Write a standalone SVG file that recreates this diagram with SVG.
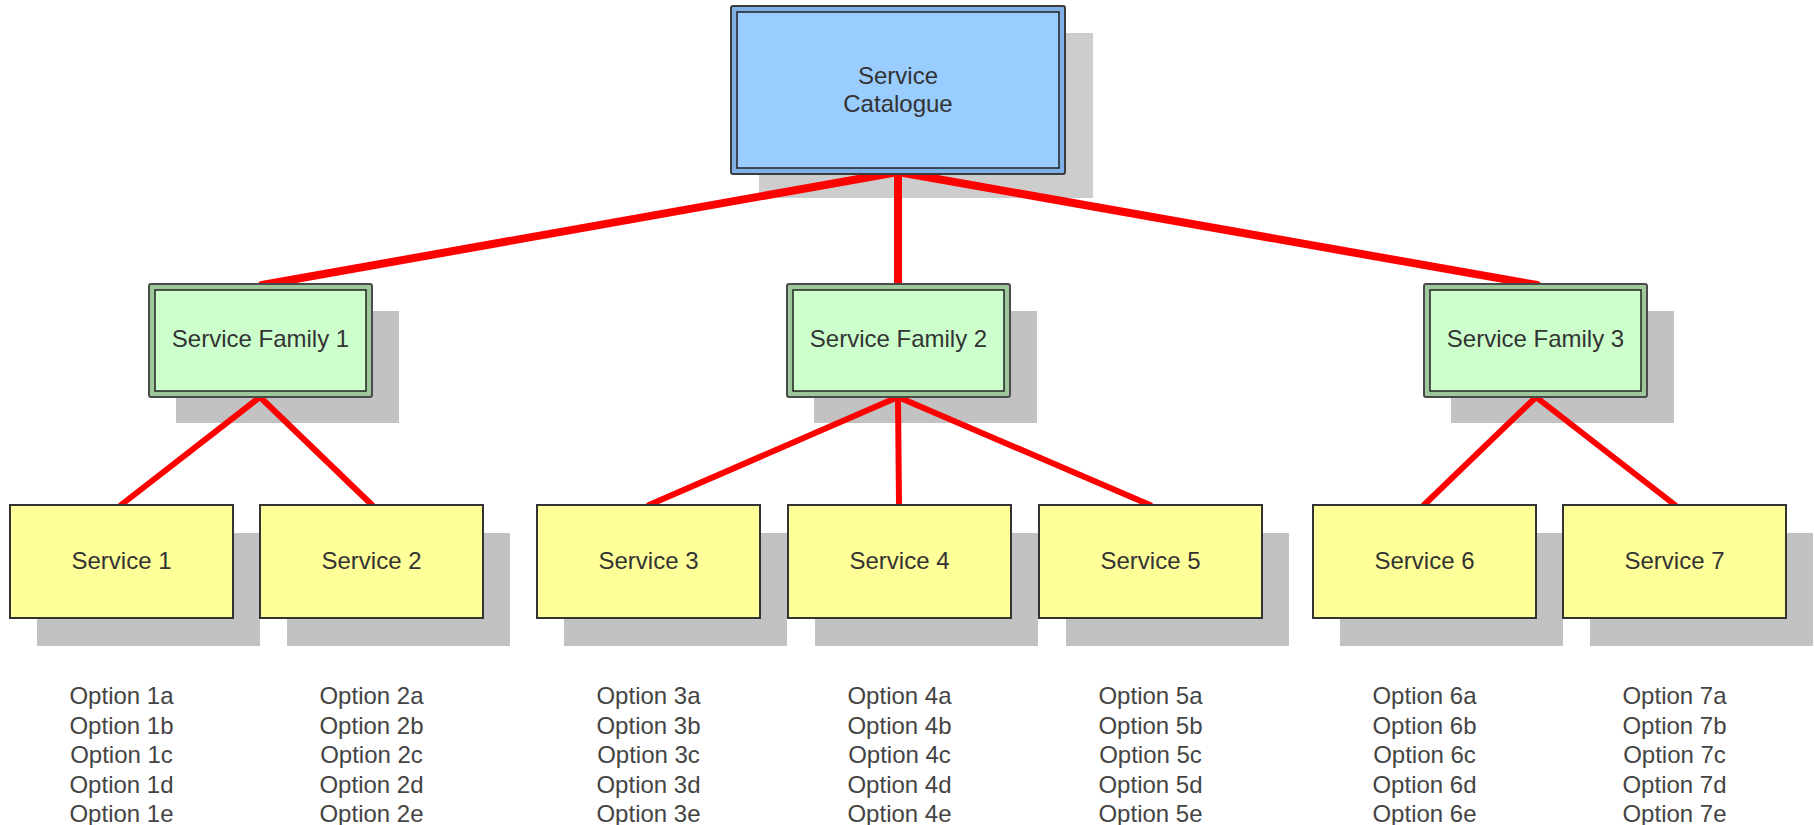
<svg xmlns="http://www.w3.org/2000/svg" width="1814" height="825" viewBox="0 0 1814 825">
<style>
.bg{fill:#ffffff}
.sh{fill:#c2c2c2}
.shc{fill:#cdcdcd}
.con{stroke:#ff0000;stroke-linecap:round;fill:none}
.top{stroke-width:8}
.low{stroke-width:6}
.catO{fill:#7fb0e6;stroke:#3c3c3c;stroke-width:2}
.catI{fill:#99ccff;stroke:#222222;stroke-width:1.5}
.famO{fill:#9cc89c;stroke:#4a4a4a;stroke-width:2}
.famI{fill:#ccffcc;stroke:#222222;stroke-width:1.5}
.svc{fill:#ffff99;stroke:#333333;stroke-width:2}
.t{font-family:"Liberation Sans",Arial,sans-serif;font-size:24px;fill:#333333;text-anchor:middle}
.o{font-family:"Liberation Sans",Arial,sans-serif;font-size:24px;fill:#444444;text-anchor:middle}
</style>
<rect class="bg" x="0" y="0" width="1814" height="825"/>
<g id="shadows">
<rect class="shc" x="759" y="33" width="334" height="165"/>
<rect class="sh" x="176" y="311" width="223" height="112"/>
<rect class="sh" x="814" y="311" width="223" height="112"/>
<rect class="sh" x="1451" y="311" width="223" height="112"/>
<rect class="sh" x="37" y="533" width="223" height="113"/>
<rect class="sh" x="287" y="533" width="223" height="113"/>
<rect class="sh" x="564" y="533" width="223" height="113"/>
<rect class="sh" x="815" y="533" width="223" height="113"/>
<rect class="sh" x="1066" y="533" width="223" height="113"/>
<rect class="sh" x="1340" y="533" width="223" height="113"/>
<rect class="sh" x="1590" y="533" width="223" height="113"/>
</g>
<g id="connectors">
<line class="con top" x1="898" y1="172" x2="262" y2="285"/>
<line class="con top" x1="898" y1="172" x2="898" y2="285"/>
<line class="con top" x1="898" y1="172" x2="1537" y2="285"/>
<line class="con low" x1="260" y1="397" x2="121" y2="505"/>
<line class="con low" x1="260" y1="397" x2="372" y2="505"/>
<line class="con low" x1="898" y1="397" x2="649" y2="505"/>
<line class="con low" x1="898" y1="397" x2="899" y2="505"/>
<line class="con low" x1="898" y1="397" x2="1150" y2="505"/>
<line class="con low" x1="1536" y1="397" x2="1424" y2="505"/>
<line class="con low" x1="1536" y1="397" x2="1675" y2="505"/>
</g>
<g id="catalogue">
<rect class="catO" x="731" y="6" width="334" height="168" rx="2"/>
<rect class="catI" x="737" y="12" width="322" height="156"/>
<text class="t" x="898" y="84">Service</text>
<text class="t" x="898" y="112">Catalogue</text>
</g>
<g id="family1">
<rect class="famO" x="149" y="284" width="223" height="113" rx="2"/>
<rect class="famI" x="155" y="290" width="211" height="101"/>
<text class="t" x="260.5" y="347">Service Family 1</text>
</g>
<g id="family2">
<rect class="famO" x="787" y="284" width="223" height="113" rx="2"/>
<rect class="famI" x="793" y="290" width="211" height="101"/>
<text class="t" x="898.5" y="347">Service Family 2</text>
</g>
<g id="family3">
<rect class="famO" x="1424" y="284" width="223" height="113" rx="2"/>
<rect class="famI" x="1430" y="290" width="211" height="101"/>
<text class="t" x="1535.5" y="347">Service Family 3</text>
</g>
<g id="service1">
<rect class="svc" x="10" y="505" width="223" height="113"/>
<text class="t" x="121.5" y="569">Service 1</text>
</g>
<g id="service2">
<rect class="svc" x="260" y="505" width="223" height="113"/>
<text class="t" x="371.5" y="569">Service 2</text>
</g>
<g id="service3">
<rect class="svc" x="537" y="505" width="223" height="113"/>
<text class="t" x="648.5" y="569">Service 3</text>
</g>
<g id="service4">
<rect class="svc" x="788" y="505" width="223" height="113"/>
<text class="t" x="899.5" y="569">Service 4</text>
</g>
<g id="service5">
<rect class="svc" x="1039" y="505" width="223" height="113"/>
<text class="t" x="1150.5" y="569">Service 5</text>
</g>
<g id="service6">
<rect class="svc" x="1313" y="505" width="223" height="113"/>
<text class="t" x="1424.5" y="569">Service 6</text>
</g>
<g id="service7">
<rect class="svc" x="1563" y="505" width="223" height="113"/>
<text class="t" x="1674.5" y="569">Service 7</text>
</g>
<g id="options1">
<text class="o" x="121.5" y="704">Option 1a</text>
<text class="o" x="121.5" y="733.5">Option 1b</text>
<text class="o" x="121.5" y="763">Option 1c</text>
<text class="o" x="121.5" y="792.5">Option 1d</text>
<text class="o" x="121.5" y="822">Option 1e</text>
</g>
<g id="options2">
<text class="o" x="371.5" y="704">Option 2a</text>
<text class="o" x="371.5" y="733.5">Option 2b</text>
<text class="o" x="371.5" y="763">Option 2c</text>
<text class="o" x="371.5" y="792.5">Option 2d</text>
<text class="o" x="371.5" y="822">Option 2e</text>
</g>
<g id="options3">
<text class="o" x="648.5" y="704">Option 3a</text>
<text class="o" x="648.5" y="733.5">Option 3b</text>
<text class="o" x="648.5" y="763">Option 3c</text>
<text class="o" x="648.5" y="792.5">Option 3d</text>
<text class="o" x="648.5" y="822">Option 3e</text>
</g>
<g id="options4">
<text class="o" x="899.5" y="704">Option 4a</text>
<text class="o" x="899.5" y="733.5">Option 4b</text>
<text class="o" x="899.5" y="763">Option 4c</text>
<text class="o" x="899.5" y="792.5">Option 4d</text>
<text class="o" x="899.5" y="822">Option 4e</text>
</g>
<g id="options5">
<text class="o" x="1150.5" y="704">Option 5a</text>
<text class="o" x="1150.5" y="733.5">Option 5b</text>
<text class="o" x="1150.5" y="763">Option 5c</text>
<text class="o" x="1150.5" y="792.5">Option 5d</text>
<text class="o" x="1150.5" y="822">Option 5e</text>
</g>
<g id="options6">
<text class="o" x="1424.5" y="704">Option 6a</text>
<text class="o" x="1424.5" y="733.5">Option 6b</text>
<text class="o" x="1424.5" y="763">Option 6c</text>
<text class="o" x="1424.5" y="792.5">Option 6d</text>
<text class="o" x="1424.5" y="822">Option 6e</text>
</g>
<g id="options7">
<text class="o" x="1674.5" y="704">Option 7a</text>
<text class="o" x="1674.5" y="733.5">Option 7b</text>
<text class="o" x="1674.5" y="763">Option 7c</text>
<text class="o" x="1674.5" y="792.5">Option 7d</text>
<text class="o" x="1674.5" y="822">Option 7e</text>
</g>
</svg>
